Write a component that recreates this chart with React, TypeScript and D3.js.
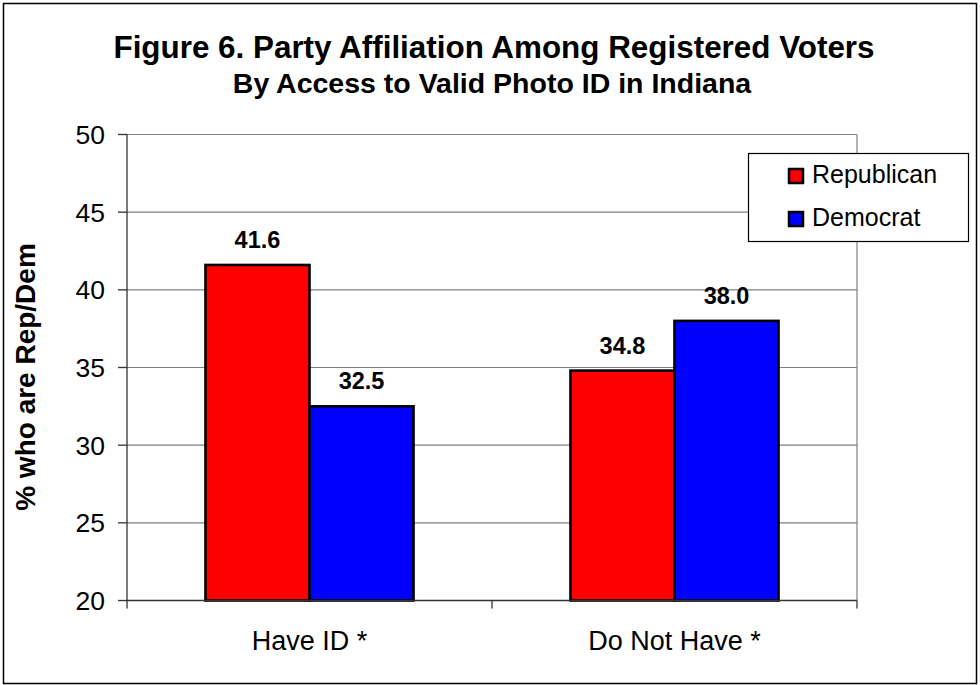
import React from "react";
import * as d3 from "d3";

// Chart data
const categories: string[] = ["Have ID *", "Do Not Have *"];
const seriesNames: string[] = ["Republican", "Democrat"];
const republican: number[] = [41.6, 34.8];
const democrat: number[] = [32.5, 38.0];
const yTicks: number[] = [20, 25, 30, 35, 40, 45, 50];

const seriesColors = ["#FF0000", "#0000FF"];
const FONT = "'Liberation Sans', Arial, Helvetica, sans-serif";

const W = 980;
const H = 685;
const plot = { left: 127, right: 857, top: 134.5, bottom: 600.5 };

export default function App() {
  const y = d3.scaleLinear().domain([20, 50]).range([plot.bottom, plot.top]);
  const x0 = d3
    .scaleBand<string>()
    .domain(categories)
    .range([plot.left, plot.right])
    .paddingInner(0.43)
    .paddingOuter(0.215);
  const x1 = d3.scaleBand<string>().domain(seriesNames).range([0, x0.bandwidth()]).padding(0);
  const values = [republican, democrat];

  const catEdges = [plot.left, ...categories.map((_, i) => plot.left + (i + 1) * x0.step())];

  return (
    <svg
      width={W}
      height={H}
      style={{ position: "absolute", left: 0, top: 0, background: "#fff" }}
      fontFamily={FONT}
    >
      <rect x={3.5} y={3.5} width={973} height={680} fill="#fff" stroke="#000" strokeWidth={1.5} />

      {/* Titles */}
      <text x={494} y={58} textAnchor="middle" fontSize={31.4} fontWeight="bold">
        Figure 6. Party Affiliation Among Registered Voters
      </text>
      <text x={492} y={93} textAnchor="middle" fontSize={28.5} fontWeight="bold">
        By Access to Valid Photo ID in Indiana
      </text>

      {/* Gridlines */}
      {yTicks
        .filter((t) => t > 20)
        .map((t) => (
          <line key={t} x1={plot.left} x2={plot.right} y1={y(t)} y2={y(t)} stroke="#808080" strokeWidth={1.2} />
        ))}
      <line x1={plot.right} x2={plot.right} y1={plot.top} y2={plot.bottom} stroke="#808080" strokeWidth={1.2} />

      {/* Y axis */}
      <line x1={plot.left} x2={plot.left} y1={plot.top} y2={plot.bottom} stroke="#333" strokeWidth={1.3} />
      {yTicks.map((t) => (
        <g key={t}>
          <line x1={plot.left - 9} x2={plot.left} y1={y(t)} y2={y(t)} stroke="#333" strokeWidth={1.3} />
          <text x={plot.left - 22} y={y(t) + 9.5} textAnchor="end" fontSize={26.5}>
            {t}
          </text>
        </g>
      ))}
      <text
        transform={`translate(35, 377) rotate(-90)`}
        textAnchor="middle"
        fontSize={28}
        fontWeight="bold"
      >
        % who are Rep/Dem
      </text>

      {/* Bars */}
      {categories.map((c, ci) => (
        <g key={c} transform={`translate(${x0(c)},0)`}>
          {seriesNames.map((s, si) => {
            const v = values[si][ci];
            return (
              <rect
                key={s}
                x={x1(s)}
                y={y(v)}
                width={x1.bandwidth()}
                height={y(20) - y(v)}
                fill={seriesColors[si]}
                stroke="#000"
                strokeWidth={2.6}
              />
            );
          })}
          {seriesNames.map((s, si) => {
            const v = values[si][ci];
            return (
              <text
                key={s}
                x={(x1(s) ?? 0) + x1.bandwidth() / 2}
                y={y(v) - 17}
                textAnchor="middle"
                fontSize={23.5}
                fontWeight="bold"
              >
                {v.toFixed(1)}
              </text>
            );
          })}
        </g>
      ))}

      {/* X axis */}
      <line x1={plot.left} x2={plot.right} y1={plot.bottom} y2={plot.bottom} stroke="#333" strokeWidth={1.3} />
      {catEdges.map((ex, i) => (
        <line key={i} x1={ex} x2={ex} y1={plot.bottom} y2={plot.bottom + 8} stroke="#333" strokeWidth={1.3} />
      ))}
      {categories.map((c) => (
        <text key={c} x={(x0(c) ?? 0) + x0.bandwidth() / 2} y={650} textAnchor="middle" fontSize={27}>
          {c}
        </text>
      ))}

      {/* Legend */}
      <rect x={748.5} y={153.5} width={220} height={88} fill="#fff" stroke="#000" strokeWidth={1.2} />
      {seriesNames.map((s, i) => (
        <g key={s} transform={`translate(0, ${i * 43})`}>
          <rect x={789} y={169} width={14} height={14} fill={seriesColors[i]} stroke="#000" strokeWidth={2.5} />
          <text x={812} y={183} fontSize={25}>
            {s}
          </text>
        </g>
      ))}
    </svg>
  );
}
